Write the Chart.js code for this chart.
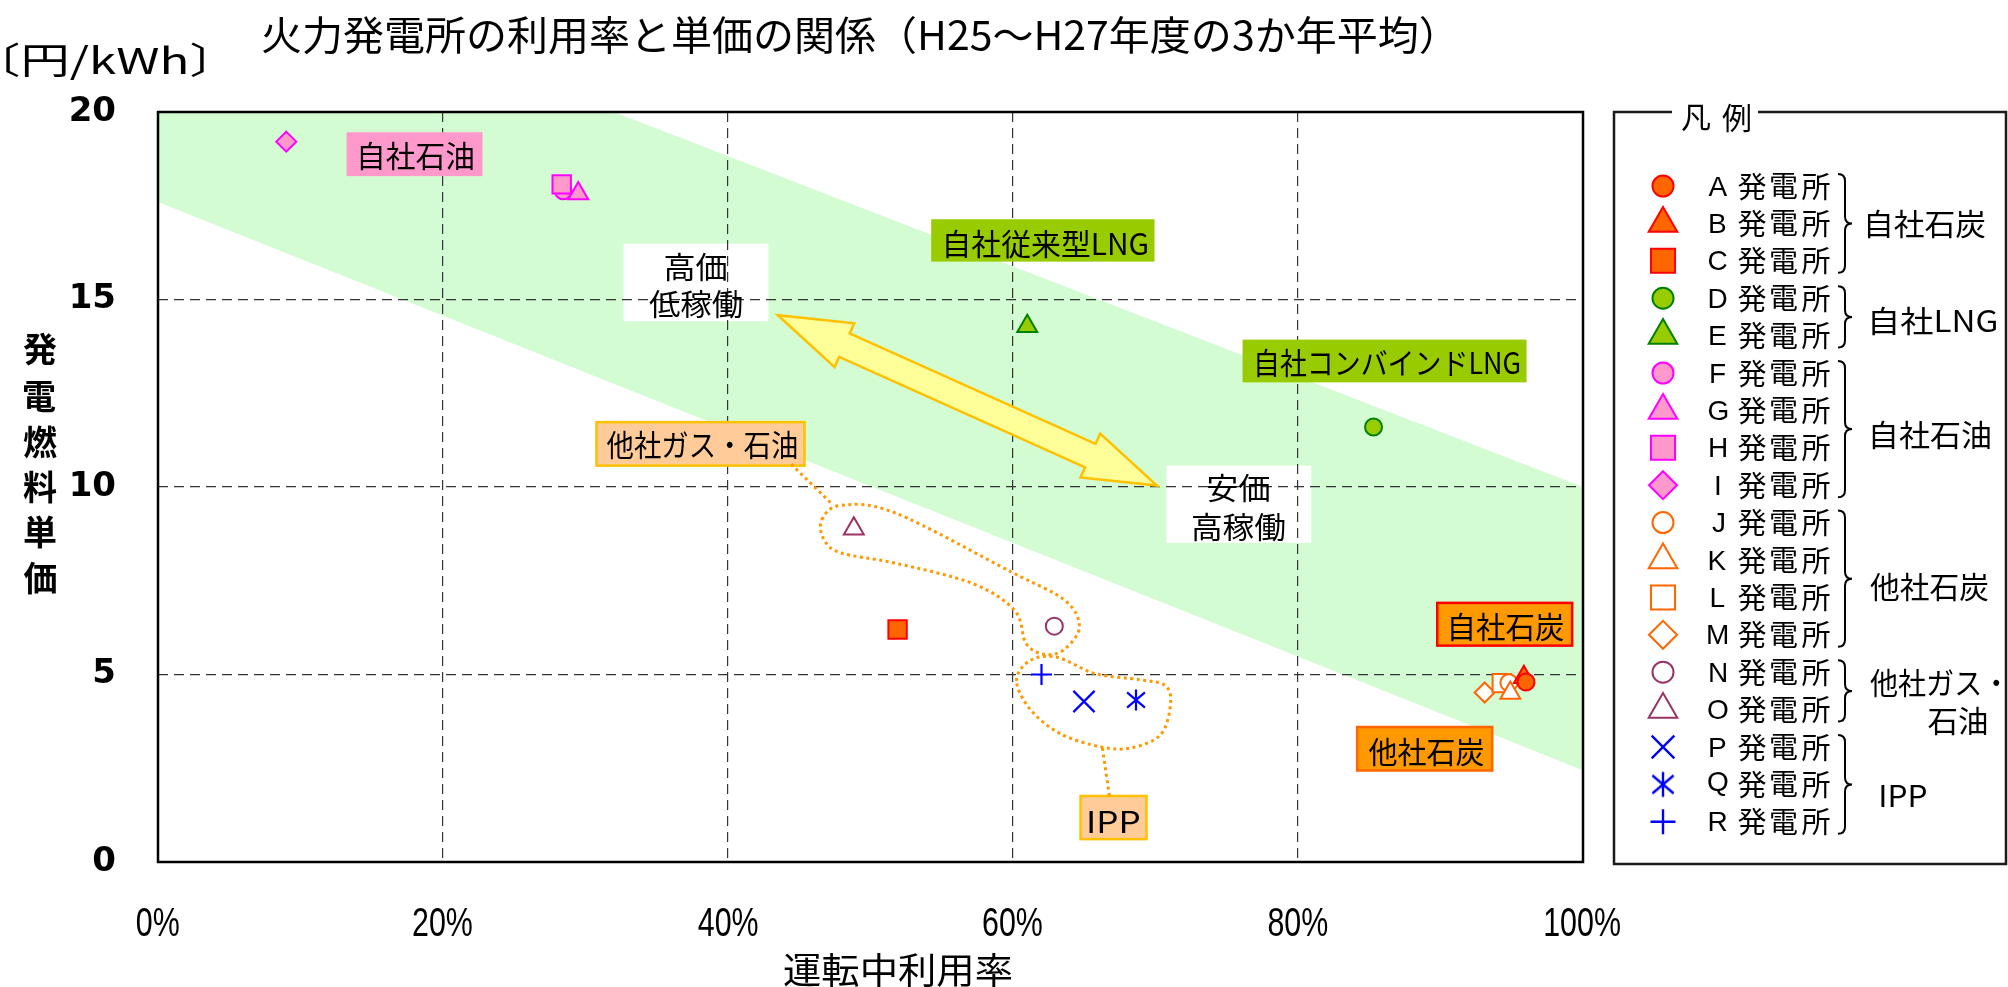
<!DOCTYPE html>
<html><head><meta charset="utf-8">
<script src="https://cdn.jsdelivr.net/npm/chart.js@4.4.1/dist/chart.umd.min.js"></script>
<style>html,body{margin:0;padding:0;background:#fff;overflow:hidden}#wrap{width:2008px;height:987px;position:relative}</style>
</head><body><div id="wrap"><canvas id="c"></canvas></div>
<script>
// ---------------- data ----------------
const plantNames = ['A','B','C','D','E','F','G','H','I','J','K','L','M','N','O','P','Q','R'];
const utilizationPct = [96.0, 95.85, 51.9, 85.3, 61.0, 28.43, 29.49, 28.33, 9.0, 94.8, 94.9, 94.3, 93.1, 62.9, 48.83, 64.98, 68.63, 62.0];
const fuelUnitPrice = [4.80, 4.93, 6.20, 11.60, 14.29, 17.90, 17.83, 18.07, 19.21, 4.78, 4.51, 4.77, 4.52, 6.29, 8.89, 4.28, 4.32, 5.00];
const xTickValues = [0, 20, 40, 60, 80, 100];
const yTickValues = [0, 5, 10, 15, 20];
const groupNames = [['自社石炭'], ['自社LNG'], ['自社石油'], ['他社石炭'], ['他社ガス・', '石油'], ['IPP']];
const groupMembers = [[0, 2], [3, 4], [5, 8], [9, 12], [13, 14], [15, 17]];
const titleText = '火力発電所の利用率と単価の関係（H25～H27年度の3か年平均）';
const unitText = '〔円/kWh〕';
const xAxisTitle = '運転中利用率';
const yAxisTitle = '発電燃料単価';

// ---------------- styles ----------------
const markerShape = ['circle','triangle','rect','circle','triangle','circle','triangle','rect','rectRot','circle','triangle','rect','rectRot','circle','triangle','crossRot','asterisk','cross'];
const markerFill = ['#FF6600','#FF6600','#FF6600','#99CC00','#99CC00','#FF99CC','#FF99CC','#FF99CC','#FF99CC','#FFFFFF','#FFFFFF','#FFFFFF','#FFFFFF','#FFFFFF','#FFFFFF','#0000FF','#0000FF','#0000FF'];
const markerLine = ['#FF0000','#FF0000','#FF0000','#008000','#008000','#FF00FF','#FF00FF','#FF00FF','#FF00FF','#FF6600','#FF6600','#FF6600','#FF6600','#993366','#993366','#0000FF','#0000FF','#0000FF'];
const markerOrder = [0,0,0,0,0,0,-2,-1,0,0,-1,0,0,0,0,0,0,0];
const chartRadius = {circle:8.5, triangle:11.5, rect:13, rectRot:10, crossRot:15, cross:10.5};
const legendRadius = {circle:10.5, triangle:16.5, rect:17, rectRot:14, crossRot:16, cross:12.5};
const JP = "'Noto Sans CJK JP','Noto Sans',sans-serif";

function asteriskCanvas(size, color, lw){
  const c = document.createElement('canvas'); c.width = c.height = size;
  const g = c.getContext('2d'); g.strokeStyle = color; g.lineWidth = lw;
  const m = size/2, r = size/2 - 1.5;
  g.beginPath();
  g.moveTo(m, m - r); g.lineTo(m, m + r);
  g.moveTo(m - r*0.85, m - r*0.72); g.lineTo(m + r*0.85, m + r*0.72);
  g.moveTo(m + r*0.85, m - r*0.72); g.lineTo(m - r*0.85, m + r*0.72);
  g.stroke();
  return c;
}
const astSmall = asteriskCanvas(24, '#0000FF', 2.2);
const astBig = asteriskCanvas(28, '#0000FF', 2.4);

function styleFor(i, legend){
  const s = markerShape[i];
  if (s === 'asterisk') return {pointStyle: legend ? astBig : astSmall, radius: 12};
  return {pointStyle: s, radius: (legend ? legendRadius : chartRadius)[s]};
}

const datasets = plantNames.map((n, i) => {
  const st = styleFor(i, false);
  return {
    label: n + ' 発電所',
    data: [{x: utilizationPct[i], y: fuelUnitPrice[i]}],
    order: markerOrder[i],
    pointStyle: st.pointStyle,
    pointRadius: st.radius, pointHoverRadius: st.radius,
    pointBackgroundColor: markerFill[i],
    pointBorderColor: markerLine[i],
    pointBorderWidth: (markerShape[i] === 'crossRot' || markerShape[i] === 'cross') ? 2.2 : 2,
    showLine: false
  };
});

// ---------------- decorations (data coordinates) ----------------
const bandPolygon = [[0,20],[32,20],[100,10],[100,2.45],[0,17.6]];
const arrowTips = [[43.5,14.58],[70.1,10.04]];
const whiteBoxes = [
  {x1:32.67,x2:42.84,y1:16.49,y2:14.42, lines:[{t:'高価',cx:37.72,cy:15.86,w:62},{t:'低稼働',cx:37.72,cy:14.89,w:93}]},
  {x1:70.77,x2:80.93,y1:10.57,y2:8.51, lines:[{t:'安価',cx:75.82,cy:9.98,w:62},{t:'高稼働',cx:75.82,cy:8.94,w:93}]}
];
const labelBoxes = [
  {x1:13.23,x2:22.77,y1:19.46,y2:18.29, fill:'#FF99CC', stroke:null, lines:[{t:'自社石油',cx:18.14,cy:18.83,w:113}]},
  {x1:54.26,x2:69.93,y1:17.14,y2:16.01, fill:'#99CC00', stroke:null, lines:[{t:'自社従来型LNG',cx:62.35,cy:16.49,w:202}]},
  {x1:76.11,x2:96.04,y1:13.93,y2:12.79, fill:'#99CC00', stroke:null, lines:[{t:'自社コンバインドLNG',cx:86.32,cy:13.31,w:263}]},
  {x1:30.77,x2:45.37,y1:11.73,y2:10.57, fill:'#FFCC99', stroke:'#FFC000', lines:[{t:'他社ガス・石油',cx:38.14,cy:11.11,w:190}]},
  {x1:89.77,x2:99.24,y1:6.91,y2:5.77, fill:'#FF9900', stroke:'#FF0000', lines:[{t:'自社石炭',cx:94.67,cy:6.28,w:113}]},
  {x1:84.15,x2:93.63,y1:3.60,y2:2.44, fill:'#FF9900', stroke:'#FF6600', lines:[{t:'他社石炭',cx:88.98,cy:2.94,w:115}]},
  {x1:64.74,x2:69.37,y1:1.76,y2:0.61, fill:'#FFCC99', stroke:'#FFC000', lines:[{t:'IPP',cx:67.12,cy:1.07,w:50}]}
];
const gasOutline = [[46.59,9.13],[47.94,9.51],[51.73,9.31],[59.85,7.74],[63.63,6.98],[64.66,6.27],[63.63,5.68],[62.28,5.53],[60.93,5.82],[60.11,6.71],[57.14,7.43],[51.73,7.97],[47.94,8.24],[46.73,8.60]];
const ippOutline = [[60.25,4.83],[61.19,5.37],[63.09,5.46],[65.79,5.02],[68.95,4.86],[70.70,4.70],[71.05,4.19],[70.35,3.39],[68.25,3.04],[66.14,3.07],[63.33,3.42],[61.23,4.06]];
const connectors = [[[44.43,10.61],[47.26,9.56]], [[66.28,3.04],[66.77,1.74]]];

// ---------------- helpers ----------------
function inkText(ctx, text, cx, cy, font, targetW, color, fixedScale){
  ctx.save();
  ctx.font = font; ctx.fillStyle = color || '#000'; ctx.textAlign = 'left'; ctx.textBaseline = 'alphabetic';
  const m = ctx.measureText(text);
  const w = m.actualBoundingBoxLeft + m.actualBoundingBoxRight;
  const s = targetW ? targetW / w : (fixedScale || 1);
  const yb = cy + (m.actualBoundingBoxAscent - m.actualBoundingBoxDescent) / 2;
  const xl = cx - w * s / 2;
  ctx.translate(xl + m.actualBoundingBoxLeft * s, yb);
  ctx.scale(s, 1);
  ctx.fillText(text, 0, 0);
  ctx.restore();
}
function smoothClosed(ctx, pts){
  const n = pts.length;
  ctx.moveTo(pts[0][0], pts[0][1]);
  for (let i = 0; i < n; i++){
    const p0 = pts[(i-1+n)%n], p1 = pts[i], p2 = pts[(i+1)%n], p3 = pts[(i+2)%n];
    ctx.bezierCurveTo(p1[0]+(p2[0]-p0[0])/6, p1[1]+(p2[1]-p0[1])/6, p2[0]-(p3[0]-p1[0])/6, p2[1]-(p3[1]-p1[1])/6, p2[0], p2[1]);
  }
  ctx.closePath();
}
function brace(ctx, x0, y1, y2){
  const ym = (y1 + y2) / 2, d = 7;
  ctx.beginPath();
  ctx.moveTo(x0, y1);
  ctx.quadraticCurveTo(x0 + d, y1, x0 + d, y1 + d);
  ctx.lineTo(x0 + d, ym - d);
  ctx.quadraticCurveTo(x0 + d, ym, x0 + 2*d, ym);
  ctx.quadraticCurveTo(x0 + d, ym, x0 + d, ym + d);
  ctx.lineTo(x0 + d, y2 - d);
  ctx.quadraticCurveTo(x0 + d, y2, x0, y2);
  ctx.stroke();
}
function drawMarker(ctx, i, x, y, legend){
  const st = styleFor(i, legend);
  ctx.save();
  ctx.fillStyle = markerFill[i]; ctx.strokeStyle = markerLine[i];
  ctx.lineWidth = (markerShape[i] === 'crossRot' || markerShape[i] === 'cross') ? 2.4 : 2;
  Chart.helpers.drawPoint(ctx, {pointStyle: st.pointStyle, radius: st.radius, rotation: 0, borderWidth: ctx.lineWidth}, x, y);
  ctx.restore();
}

const decor = {
  id: 'decor',
  beforeDraw(chart){
    const ctx = chart.ctx, X = v => chart.scales.x.getPixelForValue(v), Y = v => chart.scales.y.getPixelForValue(v);
    ctx.save();
    ctx.fillStyle = '#fff'; ctx.fillRect(0, 0, chart.width, chart.height);
    ctx.beginPath();
    bandPolygon.forEach((p, k) => k ? ctx.lineTo(X(p[0]), Y(p[1])) : ctx.moveTo(X(p[0]), Y(p[1])));
    ctx.closePath(); ctx.fillStyle = '#d3fcd3'; ctx.fill();
    whiteBoxes.forEach(b => { ctx.fillStyle = '#fff'; ctx.fillRect(X(b.x1), Y(b.y1), X(b.x2)-X(b.x1), Y(b.y2)-Y(b.y1)); });
    ctx.restore();
  },
  beforeDatasetsDraw(chart){
    const ctx = chart.ctx, X = v => chart.scales.x.getPixelForValue(v), Y = v => chart.scales.y.getPixelForValue(v);
    ctx.save();
    whiteBoxes.forEach(b => b.lines.forEach(l => inkText(ctx, l.t, X(l.cx), Y(l.cy), '30px ' + JP, l.w)));
    labelBoxes.forEach(b => {
      const x = X(b.x1), y = Y(b.y1), w = X(b.x2) - x, h = Y(b.y2) - y;
      ctx.fillStyle = b.fill; ctx.fillRect(x, y, w, h);
      if (b.stroke){ ctx.strokeStyle = b.stroke; ctx.lineWidth = 2.5; ctx.strokeRect(x, y, w, h); }
      b.lines.forEach(l => inkText(ctx, l.t, X(l.cx), Y(l.cy), '30px ' + JP, l.w));
    });
    // double arrow
    const t1 = [X(arrowTips[0][0]), Y(arrowTips[0][1])], t2 = [X(arrowTips[1][0]), Y(arrowTips[1][1])];
    const L = Math.hypot(t2[0]-t1[0], t2[1]-t1[1]);
    const u = [(t2[0]-t1[0])/L, (t2[1]-t1[1])/L], n = [-u[1], u[0]];
    const hl = 73, hw = 24, sw = 12.8;
    const P = (base, a, b) => [base[0] + u[0]*a + n[0]*b, base[1] + u[1]*a + n[1]*b];
    const pts = [t1, P(t1,hl,hw), P(t1,hl,sw), P(t2,-hl,sw), P(t2,-hl,hw), t2, P(t2,-hl,-hw), P(t2,-hl,-sw), P(t1,hl,-sw), P(t1,hl,-hw)];
    ctx.beginPath(); pts.forEach((p,k) => k ? ctx.lineTo(p[0],p[1]) : ctx.moveTo(p[0],p[1])); ctx.closePath();
    ctx.fillStyle = '#FFFF99'; ctx.fill(); ctx.strokeStyle = '#FFC000'; ctx.lineWidth = 2.5; ctx.lineJoin = 'miter'; ctx.stroke();
    // dotted outlines
    ctx.strokeStyle = '#FF9900'; ctx.lineWidth = 3; ctx.setLineDash([3, 3.5]);
    [gasOutline, ippOutline].forEach(o => { ctx.beginPath(); smoothClosed(ctx, o.map(p => [X(p[0]), Y(p[1])])); ctx.stroke(); });
    connectors.forEach(c => { ctx.beginPath(); ctx.moveTo(X(c[0][0]), Y(c[0][1])); ctx.lineTo(X(c[1][0]), Y(c[1][1])); ctx.stroke(); });
    ctx.setLineDash([]);
    ctx.restore();
  },
  afterDraw(chart){
    const ctx = chart.ctx, a = chart.chartArea, xs = chart.scales.x;
    ctx.save();
    // plot frame
    ctx.strokeStyle = '#000'; ctx.lineWidth = 2.5; ctx.strokeRect(a.left, a.top, a.right - a.left, a.bottom - a.top);
    // x tick labels (condensed) from the library's x scale ticks
    xs.ticks.forEach(t => inkText(ctx, t.value + '%', xs.getPixelForValue(t.value), 922, "40px 'Liberation Sans',Arial,sans-serif", null, '#000', 0.76));
    // titles
    inkText(ctx, titleText, 847, 35, '40px ' + JP, 1170);
    inkText(ctx, unitText, 105, 61, '36px ' + JP, 199);
    inkText(ctx, xAxisTitle, 898, 970, '36px ' + JP, 228);
    const yc = [349, 396, 442, 487, 532, 578];
    Array.from(yAxisTitle).forEach((ch, k) => inkText(ctx, ch, 40, yc[k], 'bold 34px ' + JP, null));
    // legend frame
    ctx.strokeStyle = '#1a1a1a'; ctx.lineWidth = 2.5;
    ctx.beginPath(); ctx.moveTo(1672, 112); ctx.lineTo(1614, 112); ctx.lineTo(1614, 864); ctx.lineTo(2006, 864); ctx.lineTo(2006, 112); ctx.lineTo(1758, 112); ctx.stroke();
    inkText(ctx, '凡', 1696, 118, '30px ' + JP, null);
    inkText(ctx, '例', 1736, 118, '30px ' + JP, null);
    const rowY = i => 186 + i * 37.4;
    plantNames.forEach((n, i) => {
      drawMarker(ctx, i, 1663, rowY(i), true);
      inkText(ctx, n, 1718, rowY(i), "28px 'Liberation Sans',Arial,sans-serif", null);
      ['発','電','所'].forEach((c, k) => inkText(ctx, c, 1752 + k * 32, rowY(i), '29px ' + JP, null));
    });
    // braces + group labels
    ctx.strokeStyle = '#000'; ctx.lineWidth = 2;
    const labelPos = [[[1926,224,118]],[[1934,321,125]],[[1931,435,118]],[[1929,587,118]],[[1935,683,130],[1957,721,59]],[[1904,796,45]]];
    groupMembers.forEach((g, k) => {
      brace(ctx, 1838, rowY(g[0]) - 12, rowY(g[1]) + 12);
      groupNames[k].forEach((t, j) => { const p = labelPos[k][j]; inkText(ctx, t, p[0], p[1], '30px ' + JP, p[2]); });
    });
    ctx.restore();
  }
};

const gridColor = max => c => (c.tick && (c.tick.value === 0 || c.tick.value === max)) ? 'rgba(0,0,0,0)' : '#333333';

new Chart(document.getElementById('c'), {
  type: 'scatter',
  data: {datasets},
  options: {
    responsive: true, maintainAspectRatio: false, animation: false, events: [],
    layout: {padding: {top: 112, right: 425, bottom: 0, left: 0}},
    plugins: {legend: {display: false}, tooltip: {enabled: false}, title: {display: false}},
    scales: {
      x: {
        type: 'linear', min: 0, max: 100,
        afterBuildTicks: s => { s.ticks = xTickValues.map(v => ({value: v})); },
        afterFit: s => { s.height = 125; },
        ticks: {display: false, callback: v => v + '%'},
        grid: {color: gridColor(100), lineWidth: 1.2, drawTicks: false},
        border: {display: false, dash: [10, 6]}
      },
      y: {
        type: 'linear', min: 0, max: 20,
        afterBuildTicks: s => { s.ticks = yTickValues.map(v => ({value: v})); },
        afterFit: s => { s.width = 158; },
        ticks: {color: '#000', padding: 42, font: {family: "'DejaVu Sans',sans-serif", size: 34, weight: 'bold'}},
        grid: {color: gridColor(20), lineWidth: 1.2, drawTicks: false},
        border: {display: false, dash: [10, 6]}
      }
    }
  },
  plugins: [decor]
});
</script>
</body></html>
